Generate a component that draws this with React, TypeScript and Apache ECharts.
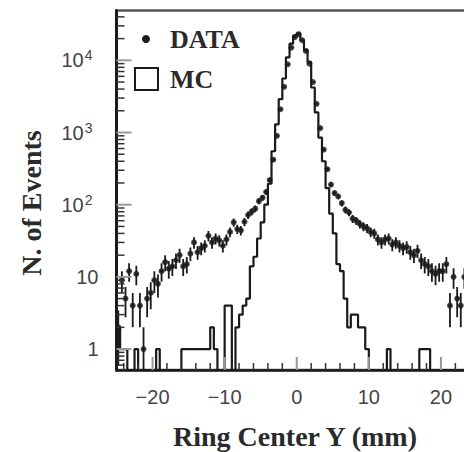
import React, { useEffect, useRef } from 'react';
import * as echarts from 'echarts';

// Histogram binning (mm)
const BIN_LO = -25;
const BIN_W = 0.5;

// DATA counts per 0.5 mm bin, from -25 to 25
const dataCounts = [
  2, 9, 5, 12, 4, 11, 4, 1, 5, 6,
  9, 8, 12, 16, 13, 14, 17, 20, 14, 15,
  21, 30, 22, 25, 27, 37, 30, 34, 32, 27,
  33, 42, 57, 46, 44, 58, 72, 80, 88, 112,
  125, 150, 220, 420, 900, 2100, 4300, 8800, 15000, 21000,
  23000, 19000, 13500, 9000, 5000, 2500, 1150, 580, 310, 190,
  145, 130, 105, 85, 78, 64, 60, 54, 50, 47,
  42, 40, 33, 30, 33, 34, 28, 30, 27, 25,
  26, 22, 20, 23, 17, 15, 14, 12, 11, 12,
  12, 15, 4, 10, 5, 4, 10, 6, 8, 5,
];

// MC counts per 0.5 mm bin, from -25 to 25
const mcCounts = [
  2, 1, 1, 0, 0, 1, 0, 0, 0, 0,
  0, 1, 0, 0, 0, 0, 0, 0, 1, 1,
  1, 1, 1, 1, 1, 1, 2, 1, 0, 0,
  4, 4, 0, 2, 3, 4, 5, 14, 19, 34,
  57, 100, 195, 550, 1300, 2900, 5600, 11000, 17000, 22000,
  23500, 19000, 14000, 9500, 4200, 1900, 850, 400, 170, 75,
  40, 15, 12, 5, 2, 3, 3, 2, 2, 1,
  0, 0, 0, 0, 0, 1, 0, 0, 0, 0,
  0, 0, 0, 0, 1, 1, 1, 0, 0, 0,
  0, 0, 0, 0, 0, 0, 0, 0, 0, 0,
];

const X_MIN = -25;
const X_MAX = 25;
const Y_MIN = 0.513;
const Y_MAX = 49000;

const xMajorTicks = [-20, -10, 0, 10, 20];
const xMinorTicks = [-24, -22, -18, -16, -14, -12, -8, -6, -4, -2, 2, 4, 6, 8, 12, 14, 16, 18, 22, 24];
const yMajorTicks = [1, 10, 100, 1000, 10000];
const yMinorTicks = [
  0.6, 0.7, 0.8, 0.9,
  2, 3, 4, 5, 6, 7, 8, 9,
  20, 30, 40, 50, 60, 70, 80, 90,
  200, 300, 400, 500, 600, 700, 800, 900,
  2000, 3000, 4000, 5000, 6000, 7000, 8000, 9000,
  20000, 30000, 40000,
];

const SERIF = '"Liberation Serif", "Times New Roman", serif';
const SANS = '"Liberation Sans", Arial, sans-serif';
const INK = '#1a1a1a';

export default function App() {
  const ref = useRef<HTMLDivElement>(null);

  useEffect(() => {
    if (!ref.current) return;
    const chart = echarts.init(ref.current, undefined, { renderer: 'svg' });

    const centers = dataCounts.map((_, i) => BIN_LO + BIN_W * (i + 0.5));
    const dataPoints = dataCounts.map((v, i) => [centers[i], v]);
    const errorItems = dataCounts.map((v, i) => {
      const e = Math.sqrt(v);
      return [centers[i], v, Math.max(v - e, Y_MIN), v + e];
    });
    const mcLine = mcCounts.map((v, i) => [BIN_LO + BIN_W * i, Math.max(v, Y_MIN)]);
    mcLine.push([X_MAX, Math.max(mcCounts[mcCounts.length - 1], Y_MIN)]);

    const xTick = (len: number, color: string, width: number) => (params: any, api: any) => {
      const p = api.coord([api.value(0), Y_MIN]);
      return {
        type: 'line',
        shape: { x1: p[0], y1: p[1], x2: p[0], y2: p[1] - len },
        style: { stroke: color, lineWidth: width },
      };
    };
    const yTick = (len: number, color: string, width: number) => (params: any, api: any) => {
      const p = api.coord([X_MIN, api.value(1)]);
      return {
        type: 'line',
        shape: { x1: p[0], y1: p[1], x2: p[0] + len, y2: p[1] },
        style: { stroke: color, lineWidth: width },
      };
    };

    const yFormatter = (value: number) => {
      const lg = Math.log10(value);
      const n = Math.round(lg);
      if (Math.abs(lg - n) > 1e-6) return '';
      if (n === 0) return '{p|1}';
      if (n === 1) return '{p|10}';
      return '{b|10}{s|' + n + '}';
    };

    chart.setOption({
      animation: false,
      backgroundColor: '#ffffff',
      grid: {
        left: 116.5,
        top: 10.5,
        width: 360.5,
        height: 359.5,
        outerBoundsMode: 'none',
        containLabel: false,
        show: true,
        borderColor: '#555',
        borderWidth: 2.5,
        backgroundColor: 'transparent',
      },
      xAxis: {
        type: 'value',
        min: X_MIN,
        max: X_MAX,
        interval: 5,
        axisLine: { show: true, onZero: false, lineStyle: { color: INK, width: 2.5 } },
        axisTick: { show: false },
        splitLine: { show: false },
        axisLabel: {
          margin: 17,
          color: '#444',
          fontSize: 20,
          fontFamily: SANS,
          formatter: (v: number) => (v % 10 === 0 && Math.abs(v) < 25 ? (v < 0 ? '\u2212' + -v : String(v)) : ''),
        },
      },
      yAxis: {
        type: 'log',
        logBase: 10,
        min: Y_MIN,
        max: Y_MAX,
        axisLine: { show: true, onZero: false, lineStyle: { color: INK, width: 3 } },
        axisTick: { show: false },
        splitLine: { show: false },
        axisLabel: {
          margin: 18,
          color: '#444',
          fontFamily: SANS,
          formatter: yFormatter,
          rich: {
            p: { fontSize: 20, fontFamily: SANS, color: '#444', lineHeight: 24 },
            b: { fontSize: 20, fontFamily: SANS, color: '#444', lineHeight: 24 },
            s: { fontSize: 14, fontFamily: SANS, color: '#444', lineHeight: 14, verticalAlign: 'top', padding: [0, 6, 0, 1] },
          },
        },
      },
      series: [
        {
          type: 'line',
          step: 'end',
          data: mcLine,
          symbol: 'none',
          clip: true,
          lineStyle: { color: INK, width: 2.2 },
          z: 3,
        },
        {
          type: 'custom',
          data: errorItems,
          clip: true,
          z: 4,
          renderItem: (params: any, api: any) => {
            const x = api.value(0);
            const v = api.value(1);
            const lo = api.value(2);
            const hi = api.value(3);
            const pc = api.coord([x, v]);
            const pt = api.coord([x, hi]);
            const pb = api.coord([x, lo]);
            const pl = api.coord([x - BIN_W / 2, v]);
            const pr = api.coord([x + BIN_W / 2, v]);
            return {
              type: 'group',
              children: [
                { type: 'line', shape: { x1: pc[0], y1: pt[1], x2: pc[0], y2: pb[1] }, style: { stroke: INK, lineWidth: 1.8 } },
                { type: 'line', shape: { x1: pl[0], y1: pc[1], x2: pr[0], y2: pc[1] }, style: { stroke: INK, lineWidth: 1.8 } },
              ],
            };
          },
        },
        {
          type: 'scatter',
          data: dataPoints,
          symbol: 'circle',
          symbolSize: 6,
          itemStyle: { color: INK },
          z: 5,
        },
        {
          type: 'custom',
          data: xMajorTicks.map((v) => [v, Y_MIN]),
          silent: true,
          z: 6,
          renderItem: xTick(13, '#999', 2),
        },
        {
          type: 'custom',
          data: xMinorTicks.map((v) => [v, Y_MIN]),
          silent: true,
          z: 6,
          renderItem: xTick(7, '#333', 1.5),
        },
        {
          type: 'custom',
          data: yMajorTicks.map((v) => [X_MIN, v]),
          silent: true,
          z: 6,
          renderItem: yTick(15, '#999', 2),
        },
        {
          type: 'custom',
          data: yMinorTicks.map((v) => [X_MIN, v]),
          silent: true,
          z: 6,
          renderItem: yTick(8, '#333', 1.5),
        },
      ],
      graphic: [
        {
          type: 'text',
          x: 31,
          y: 203,
          rotation: Math.PI / 2,
          style: { text: 'N. of Events', fontSize: 28, fontWeight: 'bold', fontFamily: SERIF, fill: '#2a2a2a', align: 'center', verticalAlign: 'middle' },
        },
        {
          type: 'text',
          x: 295,
          y: 436,
          style: { text: 'Ring Center Y (mm)', fontSize: 28, fontWeight: 'bold', fontFamily: SERIF, fill: '#2a2a2a', align: 'center', verticalAlign: 'middle' },
        },
        { type: 'circle', shape: { cx: 146, cy: 39, r: 4 }, style: { fill: INK } },
        {
          type: 'text',
          x: 170,
          y: 39,
          style: { text: 'DATA', fontSize: 26, fontWeight: 'bold', fontFamily: SERIF, fill: '#2a2a2a', align: 'left', verticalAlign: 'middle' },
        },
        { type: 'rect', shape: { x: 135, y: 68, width: 23, height: 22 }, style: { fill: 'none', stroke: INK, lineWidth: 2 } },
        {
          type: 'text',
          x: 170,
          y: 79,
          style: { text: 'MC', fontSize: 26, fontWeight: 'bold', fontFamily: SERIF, fill: '#2a2a2a', align: 'left', verticalAlign: 'middle' },
        },
      ],
    });

    return () => chart.dispose();
  }, []);

  return <div ref={ref} style={{ position: 'absolute', left: 0, top: 0, width: 464, height: 452 }} />;
}
